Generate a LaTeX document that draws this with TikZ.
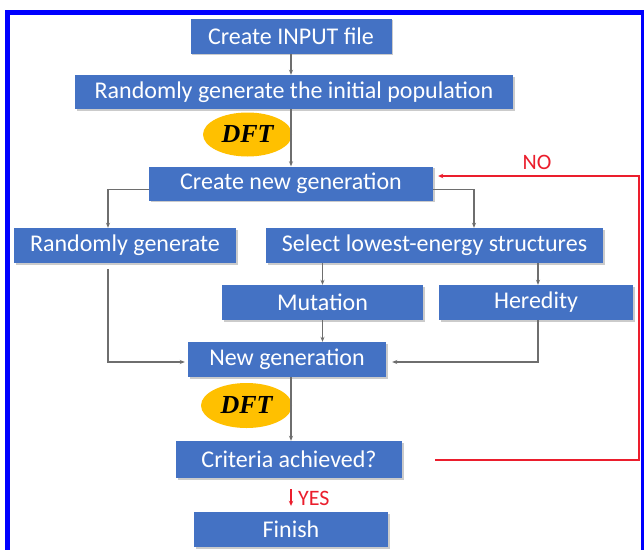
\documentclass[tikz,border=0pt]{standalone}
\usepackage{fontspec}
\setmainfont{Carlito}
\newfontfamily\dftfont{Liberation Serif}
\usetikzlibrary{shadows,arrows.meta,calc,shapes.geometric}
\definecolor{boxblue}{RGB}{68,114,196}
\definecolor{dftgold}{RGB}{255,192,0}
\definecolor{linegray}{RGB}{110,110,110}
\definecolor{nored}{RGB}{235,30,45}
\definecolor{frameblue}{RGB}{0,0,255}
\begin{document}
\begin{tikzpicture}[x=1pt,y=-1pt,
  stepbox/.style={rectangle, fill=boxblue, text=white, inner sep=0pt,
    font=\fontsize{24}{28}\selectfont,
    drop shadow={shadow xshift=1.5pt, shadow yshift=-1.8pt, fill=black!45, opacity=0.45}},
  dftnode/.style={ellipse, fill=dftgold, inner sep=0pt,
    font=\dftfont\bfseries\itshape\fontsize{26}{28}\selectfont},
  flow/.style={draw=linegray, line width=1.2pt, -{Stealth[length=5pt,width=4pt]}},
  loopline/.style={draw=nored, line width=2pt, -{Stealth[length=5pt,width=4.5pt]}},
  lbl/.style={text=nored, font=\fontsize{22}{26}\selectfont, inner sep=0pt}]
\clip (0,0) rectangle (644,549);
\fill[white] (0,0) rectangle (644,549);
\draw[frameblue, line width=5pt] (7.5,12.5) rectangle (643.5,560);

% boxes
\node[stepbox, minimum width=201pt, minimum height=35pt] (input) at (291,36) {Create INPUT file};
\node[stepbox, minimum width=438pt, minimum height=34pt] (init) at (294,92) {Randomly generate the initial population};
\node[dftnode, minimum width=89pt, minimum height=44pt] (dft1) at (247.5,134.5) {DFT};
\node[stepbox, minimum width=284pt, minimum height=34pt] (cng) at (291,183.5) {Create new generation};
\node[stepbox, minimum width=222pt, minimum height=35pt] (rg) at (125,245.5) {Randomly generate};
\node[stepbox, minimum width=337pt, minimum height=35pt] (sel) at (434.5,245.5) {Select lowest-energy structures};
\node[stepbox, minimum width=201pt, minimum height=35pt] (mut) at (322.5,302.5) {Mutation};
\node[stepbox, minimum width=194pt, minimum height=35pt] (her) at (536,302.5) {Heredity};
\node[stepbox, minimum width=198pt, minimum height=35pt] (ng) at (287,359.5) {New generation};
\node[dftnode, minimum width=91pt, minimum height=45pt] (dft2) at (246.5,405.5) {DFT};
\node[stepbox, minimum width=226pt, minimum height=37pt] (crit) at (289,459.5) {Criteria achieved?};
\node[stepbox, minimum width=194pt, minimum height=35pt] (fin) at (291,529.5) {Finish};

% gray connectors
\draw[flow] (input.south) -- (input.south |- init.north);
\draw[flow] (cng.north |- init.south) -- (cng.north);
\draw[flow] ([yshift=-6pt]cng.west) -| ([xshift=-17pt]rg.north);
\draw[flow] ([yshift=-6pt]cng.east) -| ([xshift=39.5pt]sel.north);
\draw[flow] (mut.north |- sel.south) -- (mut.north);
\draw[flow] ([xshift=2pt]her.north |- sel.south) -- ([xshift=2pt]her.north);
\draw[flow] (mut.south) -- (mut.south |- ng.north);
\draw[flow] ([xshift=-17pt,yshift=-6pt]rg.south) |- ([xshift=-3pt,yshift=-2.5pt]ng.west);
\draw[flow] ([xshift=2pt]her.south) |- ([xshift=6pt,yshift=-2.5pt]ng.east);
\draw[flow] ([xshift=2pt]crit.north |- ng.south) -- ([xshift=2pt]crit.north);

% red loop
\coordinate (rb) at (639,459.5);
\coordinate (rt) at (639,176);
\draw[loopline] ([xshift=33pt]crit.east) -- (rb) -- (rt) -- ([xshift=5pt,yshift=7.5pt]cng.east);
\node[lbl] (no) at (537,162) {NO};

\draw[loopline, line width=1.5pt] ([xshift=2pt,yshift=-11pt]crit.south) -- ([xshift=0pt,yshift=6pt]fin.north);
\node[lbl, anchor=west] (yes) at (298,498) {YES};
\end{tikzpicture}
\end{document}
